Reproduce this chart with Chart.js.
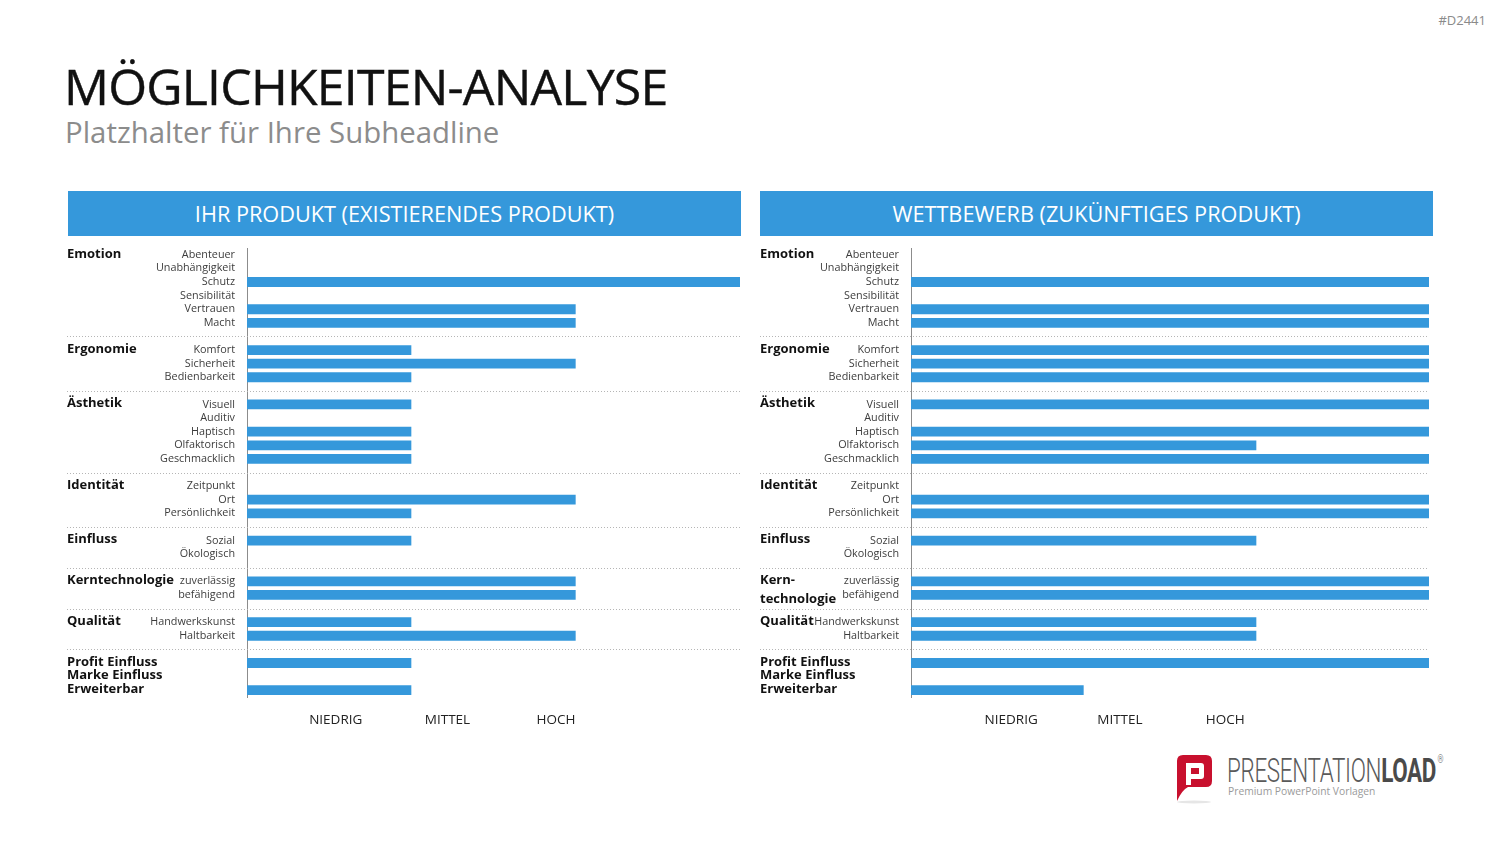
<!DOCTYPE html>
<html lang="de">
<head>
<meta charset="utf-8">
<title>Möglichkeiten-Analyse</title>
<script src="https://cdn.jsdelivr.net/npm/chart.js@4.4.1/dist/chart.umd.min.js"></script>
<style>
  html, body { margin: 0; padding: 0; background: #fff; }
  body { width: 1500px; height: 844px; position: relative; overflow: hidden; font-family: 'Open Sans', sans-serif; }
  .code { position: absolute; right: 14px; top: 11px; font-size: 13px; color: #8a8a8a; }
  h1 { position: absolute; left: 64px; top: 52px; margin: 0; font-size: 50px; font-weight: 400; color: #111; letter-spacing: -0.8px; white-space: nowrap; -webkit-text-stroke: 0.4px #111; }
  h2 { position: absolute; left: 65px; top: 112px; margin: 0; font-size: 29.4px; font-weight: 400; color: #8c8c8c; white-space: nowrap; }
  .head { position: absolute; top: 191px; height: 45px; background: #3598db; color: #fff; font-size: 21.7px; line-height: 45px; text-align: center; }
  canvas { position: absolute; }
  .logo { position: absolute; left: 1174px; top: 754px; }
  .brand { position: absolute; left: 1227px; top: 751px; font-family: Roboto, sans-serif; font-size: 33px; color: #5a5a5a; font-weight: 300; transform-origin: left; transform: scaleX(0.68); white-space: nowrap; letter-spacing: -0.5px; }
  .brand b { font-weight: 700; color: #4a4a4a; }
  .brand sup { font-size: 11px; vertical-align: top; position: relative; top: 2px; margin-left: 2px; }
  .tag { position: absolute; left: 1228px; top: 784px; font-size: 10.3px; color: #9a9a9a; white-space: nowrap; }
</style>
</head>
<body>
<div class="code">#D2441</div>
<h1>MÖGLICHKEITEN-ANALYSE</h1>
<h2>Platzhalter für Ihre Subheadline</h2>

<div class="head" style="left:68px; width:673px;">IHR PRODUKT (EXISTIERENDES PRODUKT)</div>
<div class="head" style="left:760px; width:673px;">WETTBEWERB (ZUKÜNFTIGES PRODUKT)</div>

<canvas id="own-chart" width="674" height="497" style="left:67px; top:240px;"></canvas>
<canvas id="rival-chart" width="670" height="497" style="left:760px; top:240px;"></canvas>

<svg class="logo" width="40" height="50" viewBox="0 0 40 50">
  <path d="M6 1 H32 Q38 1 38 7 V27 Q38 33 32 33 H14 Q8 36 3 47 V7 Q3 1 9 1 Z" fill="#c8102e"/>
  <path d="M12 9 H27 Q30 9 30 12 V22 Q30 25 27 25 H17 V31 H12 Z M17 14 V20 H25 V14 Z" fill="#fff"/>
  <ellipse cx="20" cy="48" rx="17" ry="1.5" fill="#e6e6e6"/>
</svg>
<div class="brand">PRESENTATION<b>LOAD</b><sup>®</sup></div>
<div class="tag">Premium PowerPoint Vorlagen</div>

<script>
// ========== Data ==========

const groupNames = ['Emotion', 'Ergonomie', 'Ästhetik', 'Identität', 'Einfluss', 'Kerntechnologie', 'Qualität', 'Profit Einfluss', 'Marke Einfluss', 'Erweiterbar'];
const rivalGroupNames = ['Emotion', 'Ergonomie', 'Ästhetik', 'Identität', 'Einfluss', 'Kern-\ntechnologie', 'Qualität', 'Profit Einfluss', 'Marke Einfluss', 'Erweiterbar'];
const groupItems = [
  ['Abenteuer', 'Unabhängigkeit', 'Schutz', 'Sensibilität', 'Vertrauen', 'Macht'],
  ['Komfort', 'Sicherheit', 'Bedienbarkeit'],
  ['Visuell', 'Auditiv', 'Haptisch', 'Olfaktorisch', 'Geschmacklich'],
  ['Zeitpunkt', 'Ort', 'Persönlichkeit'],
  ['Sozial', 'Ökologisch'],
  ['zuverlässig', 'befähigend'],
  ['Handwerkskunst', 'Haltbarkeit'],
  [''],
  [''],
  [''],
];
const separatorAfter = [true, true, true, true, true, true, true, false, false, false];

// 0 = leer, 1 = niedrig, 2 = mittel, 3 = hoch
const ownValues =   [0, 0, 3, 0, 2, 2,  1, 2, 1,  1, 0, 1, 1, 1,  0, 2, 1,  1, 0,  2, 2,  1, 2,  1, 0, 1];
const rivalValues = [0, 0, 3, 0, 3, 3,  3, 3, 3,  3, 0, 3, 2, 3,  0, 3, 3,  2, 0,  3, 3,  2, 2,  3, 0, 1];

const levelLabels = ['NIEDRIG', 'MITTEL', 'HOCH'];
const ownLevelTicks = [0.54, 1.22, 1.88];
const rivalLevelTicks = [0.58, 1.21, 1.82];

// ========== Helpers ==========

const BAR_BLUE = '#3598db';
const FONT = "'Open Sans', sans-serif";

function buildRows(values) {
  const labels = [];
  const data = [];
  const groupStart = [];
  const separators = [];
  let k = 0;
  groupItems.forEach((items, g) => {
    groupStart.push(labels.length);
    items.forEach(item => {
      labels.push(item);
      data.push(values[k++] || null);
    });
    if (separatorAfter[g]) {
      separators.push(labels.length);
      labels.push('');
      data.push(null);
    }
  });
  return { labels, data, groupStart, separators };
}

const groupPlugin = {
  id: 'groupLabels',
  beforeDatasetsDraw(chart, args, opts) {
    const { ctx, chartArea, scales } = chart;
    ctx.save();
    // dotted separators
    ctx.strokeStyle = '#b5b5b5';
    ctx.lineWidth = 1;
    ctx.setLineDash([1, 2]);
    opts.separators.forEach(i => {
      const y = Math.round(scales.y.getPixelForValue(i)) + 0.5;
      ctx.beginPath();
      ctx.moveTo(0, y);
      ctx.lineTo(chartArea.right, y);
      ctx.stroke();
    });
    ctx.setLineDash([]);
    // group labels
    ctx.fillStyle = '#111';
    ctx.font = 'bold 13px ' + FONT;
    ctx.textAlign = 'left';
    ctx.textBaseline = 'middle';
    opts.names.forEach((name, g) => {
      const y = scales.y.getPixelForValue(opts.groupStart[g]);
      name.split('\n').forEach((line, j) => {
        ctx.fillText(line, 0, y - 1 + j * 19);
      });
    });
    ctx.restore();
  },
};

function renderPanel(id, values, names, axisWidth, levelTicks) {
  const rows = buildRows(values);
  const ctx = document.getElementById(id).getContext('2d');

  return new Chart(ctx, {
    type: 'bar',
    data: {
      labels: rows.labels,
      datasets: [{
        data: rows.data,
        backgroundColor: BAR_BLUE,
        borderWidth: 0,
        barPercentage: 0.72,
        categoryPercentage: 1,
      }],
    },
    options: {
      indexAxis: 'y',
      responsive: false,
      animation: false,
      layout: { padding: { top: 8, right: 1, left: 0, bottom: 0 } },
      scales: {
        y: {
          grid: { display: false, drawTicks: false },
          border: { display: true, color: '#8c8c8c', width: 1 },
          ticks: {
            autoSkip: false,
            padding: 12,
            color: '#3c3c3c',
            font: { family: FONT, size: 10.8 },
          },
          afterFit(scale) {
            scale.width = axisWidth;
            scale.paddingTop = 0;
            scale.paddingBottom = 0;
          },
        },
        x: {
          min: 0,
          max: 3,
          grid: { display: false, drawTicks: false },
          border: { display: false },
          afterBuildTicks(scale) {
            scale.ticks = levelTicks.map(v => ({ value: v }));
          },
          ticks: {
            padding: 15,
            color: '#222',
            font: { family: FONT, size: 13.5 },
            callback: (v, i) => levelLabels[i],
          },
          afterFit(scale) {
            scale.height = 40;
            scale.paddingLeft = 0;
            scale.paddingRight = 0;
          },
        },
      },
      plugins: {
        legend: { display: false },
        tooltip: { enabled: false },
        groupLabels: { names, groupStart: rows.groupStart, separators: rows.separators },
      },
    },
    plugins: [groupPlugin],
  });
}

// ========== Init ==========

renderPanel('own-chart', ownValues, groupNames, 180, ownLevelTicks);
renderPanel('rival-chart', rivalValues, rivalGroupNames, 151, rivalLevelTicks);
</script>
</body>
</html>
